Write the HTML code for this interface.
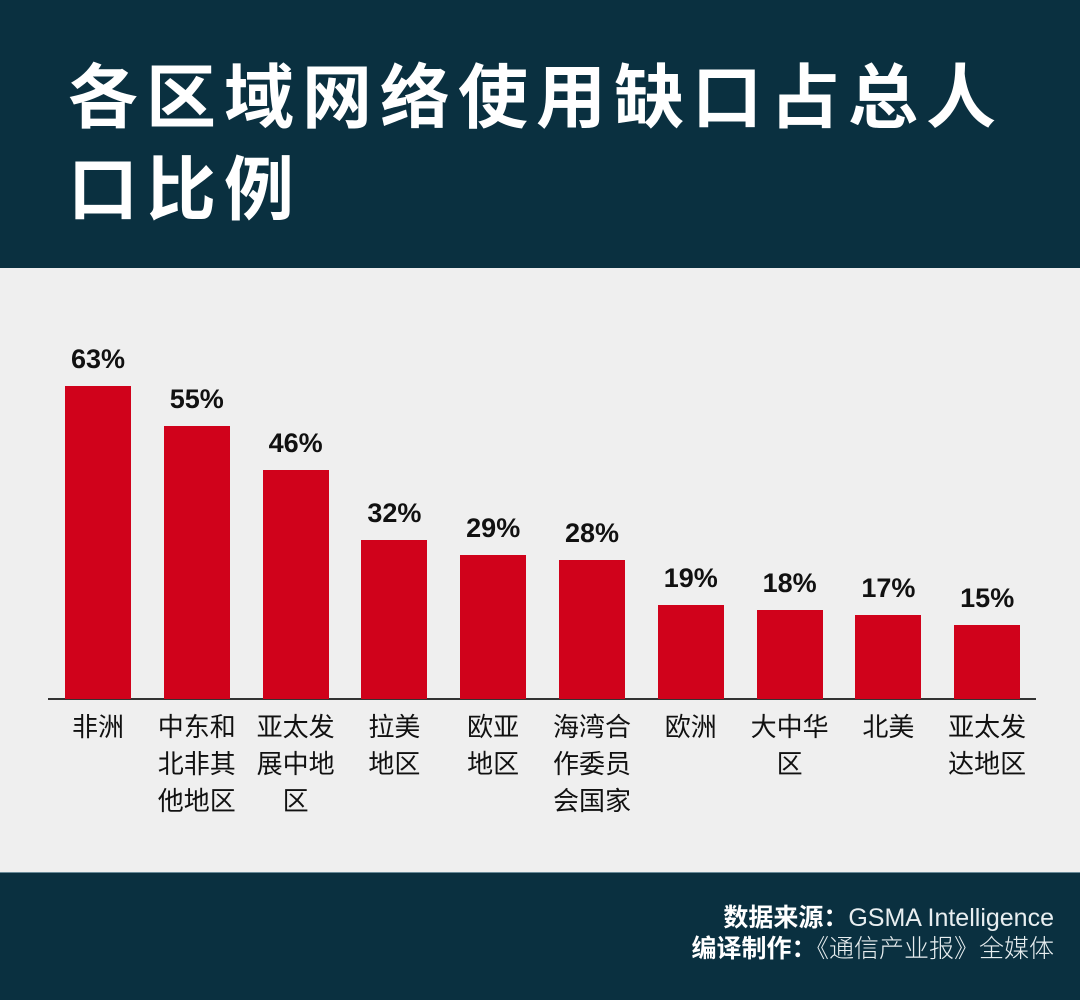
<!DOCTYPE html>
<html><head><meta charset="utf-8"><style>
*{margin:0;padding:0}
html,body{width:1080px;height:1000px;overflow:hidden}
body{position:relative;background:#efefef;font-family:"Liberation Sans","Noto Sans CJK SC",sans-serif}
.top{position:absolute;left:0;top:0;width:1080px;height:268px;background:#0a3040}
.title{position:absolute;left:68px;top:52px;color:#fff;font-size:70px;font-weight:bold;line-height:92px;letter-spacing:8px;width:1010px}
.bot{position:absolute;left:0;top:872px;width:1080px;height:128px;background:#0a3040;border-top:1px solid #6a8a98}
.foot{position:absolute;right:26px;top:30px;color:#fff;font-size:25px;line-height:31px;text-align:right;white-space:nowrap}
.foot b{font-weight:bold}
.foot span{font-weight:300;color:#e8eef0}
.bar{position:absolute;width:66px;background:#d0021b}
.val{position:absolute;width:100px;text-align:center;font-size:27px;font-weight:bold;color:#111}
.cat{position:absolute;width:110px;text-align:center;font-size:26px;line-height:37px;color:#111;top:709px}
.axis{position:absolute;left:48px;top:698px;width:988px;height:2px;background:#333}
</style></head><body>
<div class="top"><div class="title">各区域网络使用缺口占总人<br>口比例</div></div>
<div class="axis"></div>
<div id="c"></div>
<div class="bot"><div class="foot"><b>数据来源：</b><span>GSMA Intelligence</span><br><b>编译制作：</b><span>《通信产业报》全媒体</span></div></div>
<script>
var d=[[63,386,"非洲"],[55,426,"中东和<br>北非其<br>他地区"],[46,470,"亚太发<br>展中地<br>区"],[32,540,"拉美<br>地区"],[29,555,"欧亚<br>地区"],[28,560,"海湾合<br>作委员<br>会国家"],[19,605,"欧洲"],[18,610,"大中华<br>区"],[17,615,"北美"],[15,625,"亚太发<br>达地区"]];
var h="";
d.forEach(function(e,i){var x=65+i*98.8;var c=x+33;
h+='<div class="bar" style="left:'+x+'px;top:'+e[1]+'px;height:'+(699-e[1])+'px"></div>';
h+='<div class="val" style="left:'+(c-50)+'px;top:'+(e[1]-42)+'px">'+e[0]+'%</div>';
h+='<div class="cat" style="left:'+(c-55)+'px">'+e[2]+'</div>';});
document.getElementById("c").innerHTML=h;
</script>
</body></html>
